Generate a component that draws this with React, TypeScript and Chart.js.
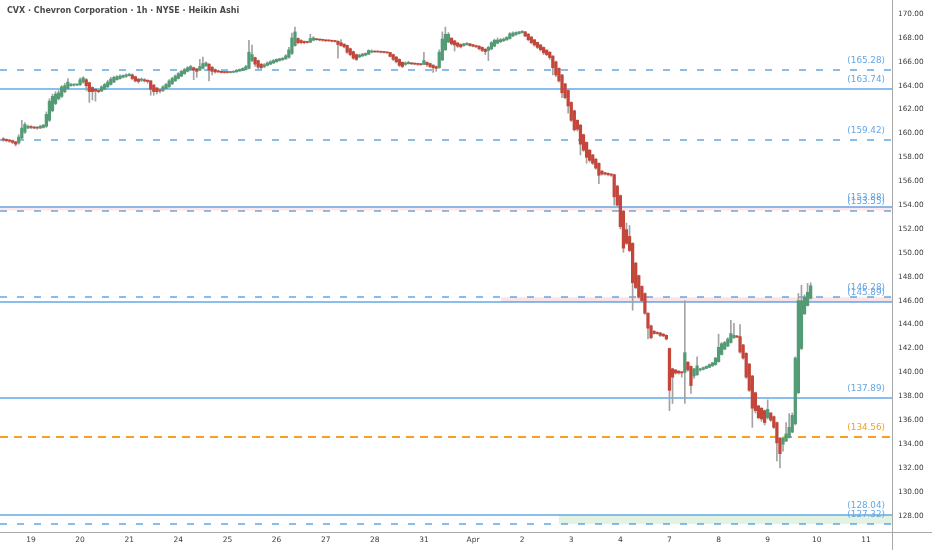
import { useEffect, useRef } from 'react';
import { Chart, registerables } from 'chart.js';

Chart.register(...registerables);

const TITLE = 'CVX · Chevron Corporation · 1h · NYSE · Heikin Ashi';

// first hourly bar index shown (16 extended-hours bars per day, Mar 18 = bars 0..15)
const FIRST_BAR = 7;

const HA_OPEN = [
  159.55,159.50,159.45,159.40,159.30,159.20,159.60,160.10,160.45,160.55,
  160.50,160.50,160.45,160.50,160.60,161.10,161.90,162.50,162.90,163.10,163.50,163.75,164.00,164.05,164.05,164.08,
  164.30,164.50,164.25,163.85,163.70,163.60,163.55,163.70,163.90,164.10,164.30,164.50,164.60,164.70,164.78,164.84,
  164.90,164.75,164.55,164.45,164.50,164.45,164.40,164.05,163.80,163.65,163.60,163.75,163.90,164.15,164.40,164.60,
  164.80,165.00,165.20,165.35,165.50,165.40,165.30,165.45,165.65,165.80,165.55,165.35,165.25,165.20,165.15,165.12,
  165.10,165.12,165.16,165.22,165.28,165.35,165.45,166.10,166.35,166.10,165.80,165.60,165.70,165.80,165.90,166.00,
  166.10,166.18,166.24,166.37,166.70,167.35,167.95,167.78,167.70,167.65,167.63,167.80,167.90,167.87,167.85,167.82,
  167.78,167.76,167.74,167.72,167.60,167.48,167.37,167.10,166.85,166.60,166.40,166.48,166.56,166.63,166.80,166.86,
  166.84,166.83,166.82,166.80,166.78,166.60,166.40,166.20,165.95,165.78,165.84,165.90,165.86,165.83,165.80,165.78,
  165.95,165.85,165.72,165.60,165.52,166.15,167.00,167.65,167.98,167.75,167.58,167.45,167.35,167.42,167.50,167.43,
  167.35,167.30,167.20,167.05,166.95,167.07,167.30,167.55,167.68,167.76,167.83,167.94,168.15,168.27,168.36,168.43,
  168.50,168.32,168.08,167.84,167.62,167.41,167.20,166.98,166.80,166.48,166.00,165.45,164.90,164.15,163.60,162.60,
  161.90,161.10,160.70,159.90,159.25,158.60,158.20,157.85,157.50,156.85,156.72,156.66,156.60,156.55,155.60,154.80,
  153.50,151.95,151.38,150.80,149.15,148.10,147.20,146.60,144.95,143.90,143.45,143.35,143.30,143.20,143.10,
  142.00,140.30,140.20,140.10,140.05,140.00,140.85,140.50,139.70,139.80,140.20,140.25,140.33,140.42,140.55,140.65,
  140.90,141.50,141.95,142.20,142.50,142.90,143.05,143.00,142.30,141.60,140.70,139.70,138.30,137.20,137.00,136.80,
  136.20,136.60,136.30,135.80,134.50,134.00,134.25,134.55,135.00,135.70,138.30,142.00,144.90,145.60,146.20,
];

const HA_CLOSE = [
  159.45,159.40,159.35,159.25,159.10,159.70,160.45,160.75,160.60,160.50,
  160.45,160.45,160.60,160.70,161.60,162.70,163.10,163.30,163.40,163.90,164.00,164.30,164.10,164.08,164.10,164.50,
  164.65,164.00,163.50,163.50,163.55,163.50,163.90,164.10,164.30,164.55,164.70,164.75,164.80,164.85,164.90,164.95,
  164.60,164.40,164.35,164.55,164.40,164.35,163.70,163.50,163.50,163.55,163.90,164.10,164.40,164.60,164.80,165.00,
  165.20,165.35,165.50,165.60,165.30,165.20,165.60,165.85,165.90,165.30,165.20,165.15,165.15,165.10,165.10,165.10,
  165.15,165.20,165.30,165.35,165.45,165.60,166.80,166.60,165.80,165.55,165.50,165.75,165.90,166.00,166.10,166.20,
  166.25,166.30,166.50,167.00,168.00,168.50,167.60,167.60,167.60,167.62,167.95,168.00,167.85,167.82,167.80,167.75,
  167.75,167.72,167.70,167.45,167.35,167.25,166.80,166.60,166.30,166.20,166.55,166.65,166.70,166.95,166.90,166.82,
  166.82,166.80,166.78,166.75,166.45,166.20,166.00,165.70,165.60,165.90,165.95,165.82,165.80,165.78,165.76,166.10,
  165.75,165.60,165.50,165.45,166.80,167.90,168.30,168.30,167.50,167.40,167.30,167.25,167.50,167.55,167.35,167.30,
  167.25,167.10,166.95,166.85,167.20,167.60,167.80,167.82,167.85,167.90,168.05,168.35,168.40,168.45,168.50,168.55,
  168.15,167.85,167.60,167.40,167.20,167.00,166.75,166.60,166.35,165.50,164.90,164.40,163.40,163.00,162.30,161.10,
  160.30,160.35,159.10,158.60,158.00,157.75,157.50,157.10,156.50,156.60,156.60,156.55,156.50,154.70,154.00,152.20,
  150.40,150.80,150.20,147.50,147.10,146.30,146.00,144.95,143.70,142.90,143.25,143.25,143.10,143.05,142.80,
  138.50,139.60,139.95,139.95,139.95,141.65,140.20,138.90,140.30,140.55,140.30,140.40,140.50,140.65,140.80,141.20,
  142.10,142.40,142.50,142.80,143.25,143.10,142.95,141.70,141.20,139.60,138.50,137.00,136.80,136.20,136.10,135.80,
  136.90,136.00,135.40,134.10,133.20,134.50,134.85,135.40,136.40,141.20,146.00,146.00,146.30,146.70,147.25,
];

const HA_HIGH = [
  159.65,159.55,159.50,159.45,159.35,159.90,161.10,160.90,160.70,160.65,
  160.60,160.55,160.70,160.75,161.80,162.90,163.30,163.50,163.60,164.00,164.20,164.60,164.20,164.15,164.15,164.65,
  164.75,164.60,164.30,163.90,163.75,163.70,164.00,164.20,164.45,164.70,164.80,164.85,164.90,164.90,165.00,165.05,
  165.00,164.80,164.60,164.65,164.60,164.50,164.45,164.10,163.85,163.70,164.00,164.20,164.50,164.70,164.90,165.10,
  165.30,165.45,165.60,165.70,165.55,165.45,166.20,166.40,166.00,165.85,165.60,165.40,165.30,165.25,165.20,165.18,
  165.20,165.25,165.35,165.40,165.50,165.70,167.80,167.40,166.40,166.15,165.85,165.85,166.00,166.10,166.20,166.25,
  166.30,166.35,166.60,167.20,168.40,168.90,168.00,167.85,167.75,167.70,168.30,168.10,167.95,167.90,167.88,167.85,
  167.82,167.80,167.78,167.75,167.85,167.50,167.40,167.15,166.90,166.65,166.65,166.70,166.75,167.00,167.00,166.90,
  166.88,166.86,166.85,166.82,166.80,166.65,166.45,166.25,166.00,166.00,166.05,165.95,165.90,165.88,165.85,166.80,
  166.00,165.90,165.75,165.65,167.00,168.50,168.90,168.45,168.00,167.80,167.60,167.50,167.55,167.60,167.55,167.45,
  167.40,167.35,167.25,167.10,167.30,167.70,167.90,168.00,167.95,168.00,168.10,168.45,168.50,168.50,168.55,168.60,
  168.55,168.35,168.10,167.88,167.65,167.45,167.25,167.00,166.85,166.50,166.05,165.50,164.95,164.20,163.65,162.65,
  161.95,161.15,160.75,159.95,159.30,158.65,158.25,157.90,157.55,156.90,156.75,156.70,156.65,156.60,155.65,154.85,
  153.55,152.50,152.30,150.85,149.20,148.15,147.25,146.65,145.00,143.95,143.50,143.40,143.35,143.25,143.15,
  142.05,140.35,140.25,140.15,140.10,146.00,140.90,140.55,140.35,141.30,140.35,140.45,140.55,140.70,140.85,141.25,
  143.20,142.50,142.60,142.90,144.35,144.10,143.10,144.00,142.35,141.65,140.75,139.75,138.35,137.25,137.05,136.85,
  137.70,136.65,136.35,135.85,134.55,134.60,135.80,136.55,136.60,141.30,146.60,147.30,146.50,147.45,147.50,
];

const HA_LOW = [
  159.35,159.30,159.25,159.15,158.95,159.10,159.50,160.00,160.40,160.40,
  160.40,160.35,160.40,160.45,160.50,161.00,161.80,162.40,162.80,163.00,163.40,163.70,163.95,163.95,164.00,164.00,
  164.20,163.60,162.60,162.80,162.70,163.40,163.50,163.65,163.85,164.05,164.25,164.45,164.55,164.65,164.70,164.80,
  164.50,164.30,164.20,164.35,164.30,164.20,163.20,163.20,163.30,163.40,163.50,163.70,163.85,164.10,164.35,164.55,
  164.75,164.95,165.15,165.30,164.50,164.70,165.25,165.40,165.60,164.40,164.90,165.05,165.10,165.05,165.05,165.05,
  165.05,165.10,165.12,165.20,165.25,165.30,165.40,166.00,165.60,165.40,165.35,165.50,165.65,165.75,165.85,165.95,
  166.05,166.10,166.20,166.30,166.60,167.30,167.50,167.50,167.50,167.55,167.60,167.75,167.80,167.75,167.72,167.70,
  167.70,167.65,167.65,166.30,167.30,167.15,166.70,166.50,166.20,166.10,166.35,166.45,166.50,166.60,166.75,166.80,
  166.78,166.75,166.72,166.70,166.40,166.10,165.90,165.60,165.50,165.70,165.80,165.78,165.75,165.70,165.70,165.75,
  165.60,165.50,165.10,165.20,165.45,166.10,166.95,167.60,167.40,166.90,167.20,167.15,167.30,167.40,167.30,167.25,
  167.20,167.00,166.85,166.60,166.10,167.00,167.25,167.50,167.60,167.70,167.80,167.90,168.10,168.20,168.30,168.40,
  168.10,167.75,167.50,167.30,167.10,166.90,166.60,166.50,166.20,164.90,164.75,164.30,163.00,162.90,161.70,161.00,
  160.20,160.20,158.20,158.50,157.50,157.60,157.40,157.00,155.80,156.50,156.50,156.45,156.40,154.00,153.90,152.00,
  150.05,150.70,150.10,145.20,147.00,146.20,145.90,144.85,142.80,142.80,143.20,143.20,143.00,143.00,142.70,
  136.80,137.40,139.85,139.85,139.60,137.40,140.10,138.25,139.50,139.75,140.10,140.20,140.30,140.40,140.50,140.60,
  140.85,141.45,141.90,142.15,142.45,142.85,142.90,141.60,141.10,139.50,138.40,135.40,136.60,136.10,135.90,135.60,
  136.10,135.90,135.30,132.60,132.00,133.40,134.20,134.50,134.95,135.60,138.20,141.90,144.85,145.55,146.15,
];

const DAY_TICKS = [16, 32, 48, 64, 80, 96, 112, 128, 144, 160, 176, 192, 208, 224, 240, 256, 272, 288];
const DAY_LABELS = ['19', '20', '21', '24', '25', '26', '27', '28', '31', 'Apr', '2', '3', '4', '7', '8', '9', '10', '11'];
const PRICE_TICKS = [128, 130, 132, 134, 136, 138, 140, 142, 144, 146, 148, 150, 152, 154, 156, 158, 160, 162, 164, 166, 168, 170];
const X_RANGE = [5.9, 296.5];
const Y_RANGE = [126.64, 171.17];

const SOLID_LEVELS = [163.74, 153.88, 145.89, 137.89, 128.04];
const DASHED_LEVELS = [165.28, 159.42, 153.55, 146.28, 127.32];
const KEY_LEVELS = [134.56];
const UPPER_ZONE = [153.55, 153.88];
const RESIST_ZONE = [145.89, 146.28];
const RESIST_ZONE_START = 169;
const SUPPORT_ZONE = [127.32, 128.04];
const SUPPORT_ZONE_START = 188;

const UP = '#529b74';
const DOWN = '#c4463a';
const WICK = '#a3a3a3';
const BLUE = '#62a8e8';
const BLUE_TEXT = '#64a6e2';
const ORANGE = '#f5a01f';
const AXIS = '#a8a8a8';
const TEXT = '#3a3a3a';

export default function App() {
  const ref = useRef<HTMLCanvasElement>(null);

  useEffect(() => {
    document.body.style.margin = '0';
    const canvas = ref.current;
    if (!canvas) return;

    const n = Math.min(HA_OPEN.length, HA_CLOSE.length, HA_HIGH.length, HA_LOW.length);
    const bodies: any[] = [];
    const wicks: any[] = [];
    const colors: string[] = [];
    for (let i = 0; i < n; i++) {
      const x = FIRST_BAR + i;
      bodies.push({ x, y: [HA_OPEN[i], HA_CLOSE[i]] });
      wicks.push({ x, y: [HA_LOW[i], HA_HIGH[i]] });
      colors.push(HA_CLOSE[i] >= HA_OPEN[i] ? UP : DOWN);
    }

    const span = (v: number, from = X_RANGE[0]) => [
      { x: from, y: v },
      { x: X_RANGE[1], y: v },
    ];
    const zone = (range: number[], from: number, color: string) => ({
      type: 'line',
      data: span(range[1], from),
      borderColor: 'transparent',
      borderWidth: 0,
      backgroundColor: color,
      fill: { value: range[0] },
      pointRadius: 0,
      pointHoverRadius: 0,
      tension: 0,
      order: 8,
    });

    const datasets: any[] = [
      zone(UPPER_ZONE, X_RANGE[0], 'rgba(242,110,125,0.16)'),
      zone(RESIST_ZONE, RESIST_ZONE_START, 'rgba(242,54,69,0.14)'),
      zone(SUPPORT_ZONE, SUPPORT_ZONE_START, 'rgba(76,175,80,0.16)'),
      { type: 'bar', data: wicks, backgroundColor: WICK, barThickness: 1, grouped: false, order: 2 },
      { type: 'bar', data: bodies, backgroundColor: colors, barThickness: 2.6, grouped: false, order: 1, minBarLength: 1 },
    ];

    const levels: { v: number; color: string; dash: number[]; width: number }[] = [
      ...SOLID_LEVELS.map((v) => ({ v, color: BLUE, dash: [] as number[], width: 1.4 })),
      ...DASHED_LEVELS.map((v) => ({ v, color: BLUE, dash: [7, 10], width: 1.4 })),
      ...KEY_LEVELS.map((v) => ({ v, color: ORANGE, dash: [8, 6], width: 2 })),
    ];

    const decor = {
      id: 'decor',
      beforeDatasetsDraw(chart: any) {
        const { ctx, chartArea, scales } = chart;
        const ys = scales.y;
        ctx.save();
        for (const l of levels) {
          const y = Math.round(ys.getPixelForValue(l.v));
          ctx.strokeStyle = l.color;
          ctx.lineWidth = l.width;
          ctx.setLineDash(l.dash);
          ctx.beginPath();
          ctx.moveTo(chartArea.left, y);
          ctx.lineTo(chartArea.right, y);
          ctx.stroke();
        }
        ctx.restore();
      },
      afterDraw(chart: any) {
        const { ctx, chartArea, scales } = chart;
        const ys = scales.y;
        ctx.save();
        ctx.strokeStyle = AXIS;
        ctx.lineWidth = 1;
        const rx = Math.round(chartArea.right) + 0.5;
        const by = Math.round(chartArea.bottom) + 0.5;
        ctx.beginPath();
        ctx.moveTo(rx, 0);
        ctx.lineTo(rx, chart.height);
        ctx.moveTo(0, by);
        ctx.lineTo(chart.width, by);
        ctx.stroke();

        ctx.font = '8.8px "DejaVu Sans"';
        ctx.textAlign = 'right';
        ctx.textBaseline = 'alphabetic';
        for (const l of levels) {
          ctx.fillStyle = l.color === ORANGE ? ORANGE : BLUE_TEXT;
          ctx.fillText('(' + l.v.toFixed(2) + ')', chartArea.right - 7, ys.getPixelForValue(l.v) - 7);
        }

        ctx.font = 'bold 8px "DejaVu Sans"';
        ctx.fillStyle = '#4a4a4a';
        ctx.textAlign = 'left';
        ctx.fillText(TITLE, 7, 12.8);
        ctx.restore();
      },
    };

    const chart = new Chart(canvas, {
      type: 'bar',
      data: { datasets },
      options: {
        animation: false,
        responsive: false,
        devicePixelRatio: 1,
        layout: { padding: 0 },
        plugins: { legend: { display: false }, tooltip: { enabled: false } },
        scales: {
          x: {
            type: 'linear',
            min: X_RANGE[0],
            max: X_RANGE[1],
            offset: false,
            grid: { display: false, drawTicks: false },
            border: { display: false },
            afterBuildTicks: (s: any) => {
              s.ticks = DAY_TICKS.map((v) => ({ value: v }));
            },
            afterFit: (s: any) => {
              s.height = 18;
              s.paddingLeft = 0;
              s.paddingRight = 0;
            },
            ticks: {
              autoSkip: false,
              maxRotation: 0,
              padding: 4,
              color: TEXT,
              font: { family: 'DejaVu Sans', size: 7.5 },
              callback: (_v: any, i: number) => DAY_LABELS[i] ?? '',
            },
          },
          y: {
            type: 'linear',
            position: 'right',
            min: Y_RANGE[0],
            max: Y_RANGE[1],
            grid: { display: false, drawTicks: false },
            border: { display: false },
            afterBuildTicks: (s: any) => {
              s.ticks = PRICE_TICKS.map((v) => ({ value: v }));
            },
            afterFit: (s: any) => {
              s.width = 40;
              s.paddingTop = 0;
              s.paddingBottom = 0;
            },
            ticks: {
              autoSkip: false,
              padding: 6,
              color: TEXT,
              font: { family: 'DejaVu Sans', size: 7.3 },
              callback: (v: any) => Number(v).toFixed(2),
            },
          },
        },
      } as any,
      plugins: [decor],
    } as any);

    return () => chart.destroy();
  }, []);

  return (
    <div style={{ width: 932, height: 550 }}>
      <canvas ref={ref} width={932} height={550} />
    </div>
  );
}
